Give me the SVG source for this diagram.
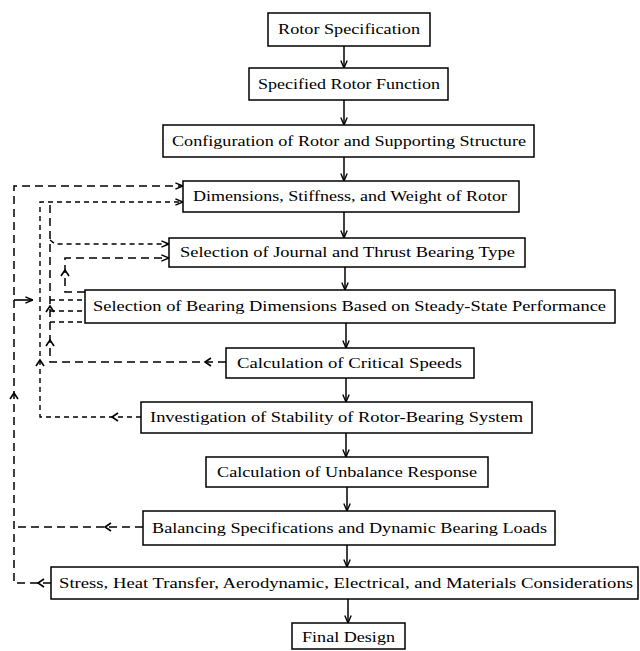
<svg xmlns="http://www.w3.org/2000/svg" xmlns:xlink="http://www.w3.org/1999/xlink" width="640" height="651" viewBox="0 0 640 651">
<style>
.box{fill:#fff;stroke:#000;stroke-width:1.5}
.t{font-family:"Liberation Serif","Times New Roman",serif;font-size:15px;fill:#000}
.main{stroke:#000;stroke-width:1.5;fill:none}
.fb{stroke:#000;stroke-width:1.5;fill:none;stroke-dasharray:8,5}
.fs{stroke:#000;stroke-width:1.4;fill:none;stroke-dasharray:5,4}
.hd{stroke:#000;stroke-width:1.6;fill:none}
</style>
<defs>
<marker id="a" viewBox="0 0 10 10" refX="9.5" refY="5" markerWidth="8" markerHeight="8" orient="auto" markerUnits="userSpaceOnUse">
<path d="M0,1 L9.5,5 L0,9" fill="none" stroke="#000" stroke-width="1.7"/>
</marker>
<path id="h" d="M6,-4 L0,0 L6,4"/>
</defs>
<rect width="640" height="651" fill="#fff"/>

<g id="connectors">
<!-- main flow -->
<line class="main" x1="344" y1="46" x2="344" y2="68" marker-end="url(#a)"/>
<line class="main" x1="344" y1="100" x2="344" y2="125" marker-end="url(#a)"/>
<line class="main" x1="344" y1="157" x2="344" y2="181" marker-end="url(#a)"/>
<line class="main" x1="344" y1="212" x2="344" y2="238" marker-end="url(#a)"/>
<line class="main" x1="345" y1="267" x2="345" y2="290" marker-end="url(#a)"/>
<line class="main" x1="346" y1="323" x2="346" y2="348" marker-end="url(#a)"/>
<line class="main" x1="346" y1="378" x2="346" y2="402" marker-end="url(#a)"/>
<line class="main" x1="346" y1="433" x2="346" y2="457" marker-end="url(#a)"/>
<line class="main" x1="347" y1="487" x2="347" y2="511" marker-end="url(#a)"/>
<line class="main" x1="347" y1="545" x2="347" y2="567" marker-end="url(#a)"/>
<line class="main" x1="348" y1="599" x2="348" y2="623" marker-end="url(#a)"/>

<!-- outer loop x=14 -->
<polyline class="fb" points="51,583 14,583 14,186 183,186" marker-end="url(#a)"/>
<line class="fb" x1="143" y1="527" x2="14" y2="527"/>
<line class="hd" x1="14" y1="300" x2="33" y2="300" marker-end="url(#a)"/>

<!-- x=40 loop -->
<polyline class="fs" points="141,417 40,417 40,202 183,202" marker-end="url(#a)"/>

<!-- x=50 loop -->
<polyline class="fb" points="226,362 50,362 50,202"/>
<line class="fs" x1="50" y1="300" x2="85" y2="300"/>
<line class="fs" x1="50" y1="311" x2="85" y2="311"/>
<line class="fs" x1="50" y1="322" x2="85" y2="322"/>
<polyline class="fs" points="50,240 55,244 169,244" marker-end="url(#a)"/>

<!-- x=65 loop -->
<polyline class="fb" points="85,292 65,292 65,258 169,258" marker-end="url(#a)"/>

<!-- mid arrowheads -->
<g class="hd">
<use xlink:href="#h" transform="translate(205,362)"/>
<use xlink:href="#h" transform="translate(112,417)"/>
<use xlink:href="#h" transform="translate(105,527)"/>
<use xlink:href="#h" transform="translate(38,583)"/>
<use xlink:href="#h" transform="translate(14,393) rotate(90)"/>
<use xlink:href="#h" transform="translate(40,360) rotate(90)"/>
<use xlink:href="#h" transform="translate(50,340) rotate(90)"/>
<use xlink:href="#h" transform="translate(50,306) rotate(90)"/>
<use xlink:href="#h" transform="translate(65,270) rotate(90)"/>
</g>
</g>

<g id="n1"><rect class="box" x="268" y="13" width="162" height="33"/><text class="t" x="278" y="34" textLength="142" lengthAdjust="spacingAndGlyphs">Rotor Specification</text></g>
<g id="n2"><rect class="box" x="249" y="68" width="199" height="32"/><text class="t" x="258" y="89" textLength="182" lengthAdjust="spacingAndGlyphs">Specified Rotor Function</text></g>
<g id="n3"><rect class="box" x="163" y="125" width="371" height="32"/><text class="t" x="172" y="146" textLength="354" lengthAdjust="spacingAndGlyphs">Configuration of Rotor and Supporting Structure</text></g>
<g id="n4"><rect class="box" x="183" y="181" width="336" height="31"/><text class="t" x="193" y="201" textLength="314" lengthAdjust="spacingAndGlyphs">Dimensions, Stiffness, and Weight of Rotor</text></g>
<g id="n5"><rect class="box" x="169" y="238" width="356" height="29"/><text class="t" x="180" y="257" textLength="335" lengthAdjust="spacingAndGlyphs">Selection of Journal and Thrust Bearing Type</text></g>
<g id="n6"><rect class="box" x="85" y="290" width="530" height="33"/><text class="t" x="93" y="311" textLength="513" lengthAdjust="spacingAndGlyphs">Selection of Bearing Dimensions Based on Steady-State Performance</text></g>
<g id="n7"><rect class="box" x="226" y="348" width="248" height="30"/><text class="t" x="237" y="368" textLength="225" lengthAdjust="spacingAndGlyphs">Calculation of Critical Speeds</text></g>
<g id="n8"><rect class="box" x="141" y="402" width="391" height="31"/><text class="t" x="150" y="422" textLength="373" lengthAdjust="spacingAndGlyphs">Investigation of Stability of Rotor-Bearing System</text></g>
<g id="n9"><rect class="box" x="206" y="457" width="282" height="30"/><text class="t" x="217" y="477" textLength="260" lengthAdjust="spacingAndGlyphs">Calculation of Unbalance Response</text></g>
<g id="n10"><rect class="box" x="143" y="511" width="412" height="34"/><text class="t" x="152" y="533" textLength="395" lengthAdjust="spacingAndGlyphs">Balancing Specifications and Dynamic Bearing Loads</text></g>
<g id="n11"><rect class="box" x="51" y="567" width="587" height="32"/><text class="t" x="59" y="588" textLength="574" lengthAdjust="spacingAndGlyphs">Stress, Heat Transfer, Aerodynamic, Electrical, and Materials Considerations</text></g>
<g id="n12"><rect class="box" x="292" y="623" width="113" height="26"/><text class="t" x="302" y="642" textLength="93" lengthAdjust="spacingAndGlyphs">Final Design</text></g>
</svg>
